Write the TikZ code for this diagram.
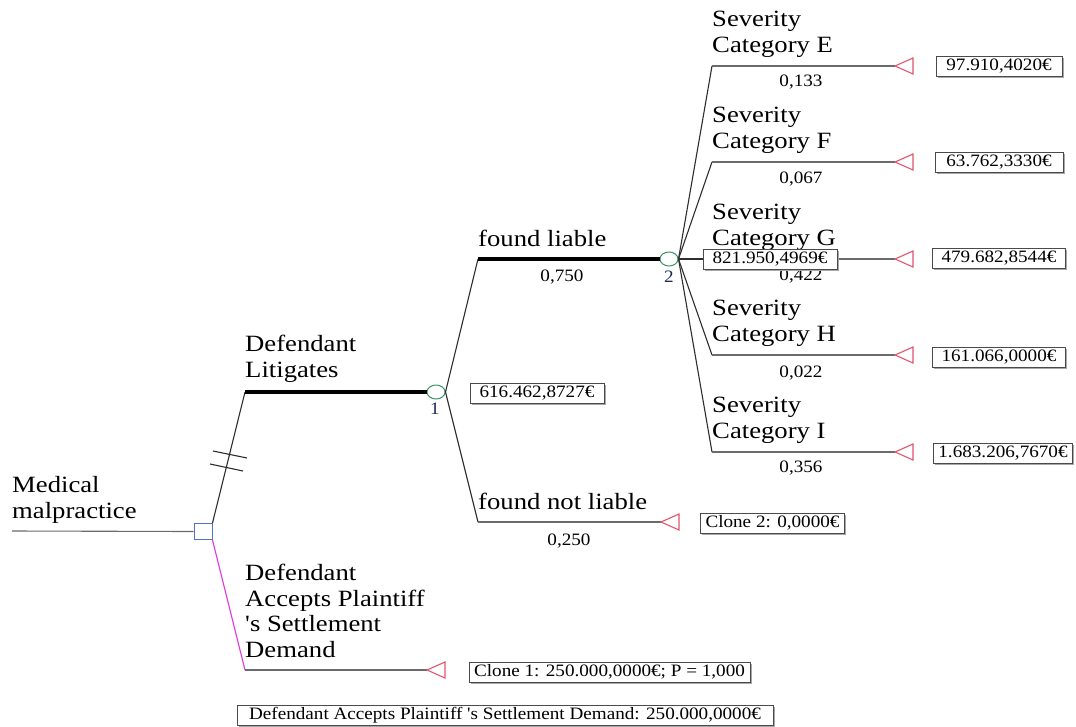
\documentclass[tikz,border=0pt]{standalone}
\usepackage{fontspec}
\setmainfont{Liberation Serif}[FakeStretch=1.1, Ligatures=TeXOff]
\newfontfamily\labfont{Liberation Serif}[FakeStretch=1.145, Ligatures=TeXOff]
\usetikzlibrary{shapes.geometric,shadows}
\definecolor{linec}{HTML}{2E2E2E}
\definecolor{hlc}{HTML}{6B6B6B}
\definecolor{decblue}{HTML}{4F74C8}
\definecolor{chgreen}{HTML}{3C9467}
\definecolor{termred}{HTML}{E0566E}
\definecolor{accmag}{HTML}{E23CE0}
\definecolor{boxc}{HTML}{4A4A4A}
\definecolor{shadc}{HTML}{A8A8A8}
\definecolor{numc}{HTML}{1A2A5A}
\tikzset{
  lbl/.style={font=\labfont\fontsize{23.3}{25.5}\selectfont, anchor=base west, inner sep=0pt},
  prob/.style={font=\fontsize{17.4}{20}\selectfont, inner sep=0pt},
  valbox/.style={draw=boxc, line width=0.9pt, fill=white, font=\fontsize{17.4}{20}\selectfont,
     inner xsep=5pt, inner ysep=2pt, minimum height=20pt,
     drop shadow={shadow xshift=1.5pt, shadow yshift=-1.5pt, fill=shadc, opacity=1}},
  decision/.style={rectangle, draw=decblue, line width=1pt, fill=white, minimum width=18pt, minimum height=16pt, inner sep=0pt},
  chance/.style={ellipse, draw=chgreen, line width=1pt, fill=white, minimum width=18pt, minimum height=14pt, inner sep=0pt},
  branch/.style={draw=linec, line width=1.1pt},
  hline/.style={draw=hlc, line width=1.1pt},
  best/.style={draw=black, line width=3.5pt},
  accline/.style={draw=accmag, line width=1.1pt},
  terminal/.style={draw=termred, line width=1.1pt, fill=white, line join=miter},
  nodenum/.style={font=\fontsize{17.4}{20}\selectfont, inner sep=0pt, text=numc},
  hash/.style={draw=linec, line width=1.1pt},
}
\newcommand\mylines[1]{\begin{tabular}[b]{@{}l@{}}#1\end{tabular}}
\begin{document}
\begin{tikzpicture}[x=1pt,y=-1pt]
\fill[white] (0,0) rectangle (1076,726);
\useasboundingbox (0,0) rectangle (1076,726);

% ---- nodes ----
\coordinate (root) at (12,531);
\node[decision] (dec) at (203,531.5) {};
\node[chance] (c1) at (436,392) {};
\node[chance] (c2) at (669,259) {};
\node[nodenum] (n1) at (435,409) {1};
\node[nodenum] (n2) at (669,277) {2};

% corners
\coordinate (kL) at (245,392);
\coordinate (kA) at (245,670);
\coordinate (kFL) at (478,259);
\coordinate (kFN) at (478,522);
\coordinate (kE) at (712,66);
\coordinate (kF) at (712,162);
\coordinate (kG) at (712,259);
\coordinate (kH) at (712,355);
\coordinate (kI) at (712,452);

% terminal apexes
\coordinate (tE) at (895,66);
\coordinate (tF) at (895,162);
\coordinate (tG) at (895,259);
\coordinate (tH) at (895,355);
\coordinate (tI) at (895,452);
\coordinate (tC2) at (661,522);
\coordinate (tC1) at (427,670);

% hash marks
\coordinate (h1a) at (213,451);
\coordinate (h1b) at (247,458);
\coordinate (h2a) at (210,464);
\coordinate (h2b) at (243,471);

% ---- connectors ----
\draw[hline] (root) -- (dec.west);
\draw[branch] (dec.north east) -- (kL);
\draw[best] (kL) -- (c1.west);
\draw[accline] (dec.south east) -- (kA);
\draw[hline] (kA) -- (tC1);
\draw[hash] (h1a) -- (h1b);
\draw[hash] (h2a) -- (h2b);

\draw[branch] (c1.east) -- (kFL);
\draw[best] (kFL) -- (c2.west);
\draw[branch] (c1.east) -- (kFN);
\draw[hline] (kFN) -- (tC2);

\foreach \k in {E,F,G,H,I} {
  \draw[branch] (c2.east) -- (k\k);
  \draw[hline] (k\k) -- (t\k);
}

% terminals
\foreach \t in {tE,tF,tG,tH,tI,tC2,tC1} {
  \draw[terminal] (\t) -- ++(18,-8) -- ++(0,16) -- cycle;
}

% ---- labels ----
\node[lbl] (lMed) at (12,518) {\mylines{Medical\\malpractice}};
\node[lbl] (lLit) at (245,377) {\mylines{Defendant\\Litigates}};
\node[lbl] (lAcc) at (245,657) {\mylines{Defendant\\Accepts Plaintiff\\'s Settlement\\Demand}};
\node[lbl] (lFL) at (478,246) {found liable};
\node[lbl] (lFN) at (478,509) {found not liable};
\node[lbl] (lE) at (712,52) {\mylines{Severity\\Category E}};
\node[lbl] (lF) at (712,148) {\mylines{Severity\\Category F}};
\node[lbl] (lG) at (712,245) {\mylines{Severity\\Category G}};
\node[lbl] (lH) at (712,341) {\mylines{Severity\\Category H}};
\node[lbl] (lI) at (712,438) {\mylines{Severity\\Category I}};

\node[prob] (pFL) at (562,277) {0,750};
\node[prob] (pFN) at (569,541) {0,250};
\node[prob] (pE) at (801,82) {0,133};
\node[prob] (pF) at (801,179) {0,067};
\node[prob] (pG) at (801,276) {0,422};
\node[prob] (pH) at (801,373) {0,022};
\node[prob] (pI) at (801,468) {0,356};

% ---- value boxes ----
\node[valbox, minimum width=134pt] (v1) at (537,393) {616.462,8727€};
\node[valbox, minimum width=134pt] (v2) at (770,259.5) {821.950,4969€};
\node[valbox, minimum width=126pt] (vE) at (999,66) {97.910,4020€};
\node[valbox, minimum width=128pt] (vF) at (999,162) {63.762,3330€};
\node[valbox, minimum width=133pt] (vG) at (999,258) {479.682,8544€};
\node[valbox, minimum width=133pt] (vH) at (999,357) {161.066,0000€};
\node[valbox, minimum width=139pt] (vI) at (1003,453) {1.683.206,7670€};
\node[valbox, minimum width=139pt] (vC2) at (772.5,523) {Clone 2: 0,0000€};
\node[valbox, minimum width=281pt] (vC1) at (609.5,672) {Clone 1: 250.000,0000€; P = 1,000};
\node[valbox, minimum height=19pt, minimum width=536pt] (vBot) at (505,715.5) {Defendant Accepts Plaintiff 's Settlement Demand: 250.000,0000€};
\end{tikzpicture}
\end{document}
